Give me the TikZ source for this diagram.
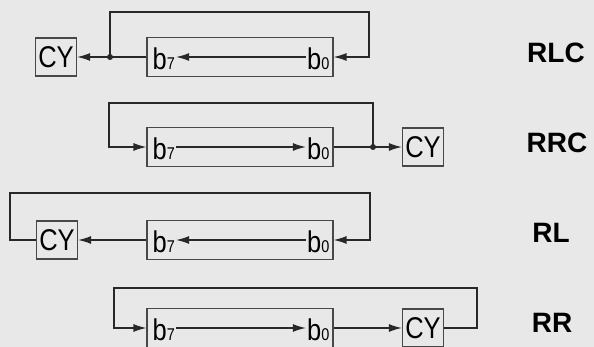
\documentclass[tikz,border=0pt]{standalone}
\usepackage{fontspec}
\setmainfont{Liberation Sans}
\newfontfamily\handfont[FakeStretch=0.85]{Liberation Sans}
\usetikzlibrary{calc,arrows.meta,positioning}
\definecolor{paper}{RGB}{232,232,232}
\definecolor{ink}{RGB}{40,40,40}
\newcommand{\bitname}[1]{b{\fontsize{17}{17}\selectfont #1}}

\begin{document}
\begin{tikzpicture}[x=1pt,y=-1pt,
  wire/.style={ink,line width=1.4pt},
  arr/.style={wire,-{Latex[length=13pt,width=8pt]}},
  regbox/.style={draw=ink!85,line width=1.1pt,minimum width=186pt,minimum height=39pt,inner sep=0pt},
  cybox/.style={draw=ink!85,line width=1.1pt,minimum width=41pt,minimum height=38pt,inner sep=0pt,
    font=\handfont\fontsize{30}{30}\selectfont},
  bit/.style={inner sep=1pt,font=\handfont\fontsize{30}{30}\selectfont},
  opname/.style={font=\bfseries\fontsize{28}{28}\selectfont}]
  % page 594 x 347, one unit = one pixel, y runs downwards
  \fill[paper] (0,0) rectangle (594,347);
  \useasboundingbox (0,0) rectangle (594,347);

  % RLC: b0 -> b7, b7 out to CY and round to b0
  \node[cybox]  (cy1) at (56,57)  {CY};
  \node[regbox] (r1)  at (240,57) {};
  \node[bit,anchor=base west] (b71) at ($(r1.west)+(5,13)$) {\bitname{7}};
  \node[bit,anchor=base east] (b01) at ($(r1.east)+(-3,13)$) {\bitname{0}};
  \coordinate (j1) at (110,57);
  \coordinate (t1) at (369,12);
  \draw[arr] (b01.west |- r1.east) -- (b71.east |- r1.east);
  \draw[arr] (r1.west) -- (cy1.east);
  \draw[arr] (j1) |- (t1) |- (r1.east);
  \fill[ink] (j1) circle (3pt);
  \node[opname] (rlc) at (556,53) {RLC};

  % RRC: b7 -> b0, b0 out to CY and round to b7
  \node[regbox] (r2)  at (240,147) {};
  \node[cybox]  (cy2) at (423,147) {CY};
  \node[bit,anchor=base west] (b72) at ($(r2.west)+(5,13)$) {\bitname{7}};
  \node[bit,anchor=base east] (b02) at ($(r2.east)+(-3,13)$) {\bitname{0}};
  \coordinate (j2) at (373,147);
  \coordinate (t2) at (109,103);
  \draw[arr] (b72.east |- r2.west) -- (b02.west |- r2.west);
  \draw[arr] (r2.east) -- (cy2.west);
  \draw[arr] (j2) |- (t2) |- (r2.west);
  \fill[ink] (j2) circle (3pt);
  \node[opname] (rrc) at (557,143) {RRC};

  % RL: CY takes b7, old CY goes round to b0
  \node[cybox]  (cy3) at (57,240)  {CY};
  \node[regbox] (r3)  at (240,240) {};
  \node[bit,anchor=base west] (b73) at ($(r3.west)+(5,13)$) {\bitname{7}};
  \node[bit,anchor=base east] (b03) at ($(r3.east)+(-3,13)$) {\bitname{0}};
  \coordinate (c3a) at (10,193);
  \coordinate (c3b) at (370,193);
  \draw[arr] (b03.west |- r3.east) -- (b73.east |- r3.east);
  \draw[arr] (r3.west) -- (cy3.east);
  \draw[arr] (cy3.west) -| (c3a) -- (c3b) |- (r3.east);
  \node[opname] (rl) at (551,233) {RL};

  % RR: CY takes b0, old CY goes round to b7
  \node[regbox] (r4)  at (240,328) {};
  \node[cybox]  (cy4) at (423,328) {CY};
  \node[bit,anchor=base west] (b74) at ($(r4.west)+(5,12)$) {\bitname{7}};
  \node[bit,anchor=base east] (b04) at ($(r4.east)+(-3,12)$) {\bitname{0}};
  \coordinate (c4a) at (477,288);
  \coordinate (c4b) at (114,288);
  \draw[arr] (b74.east |- r4.west) -- (b04.west |- r4.west);
  \draw[arr] (r4.east) -- (cy4.west);
  \draw[arr] (cy4.east) -| (c4a) -- (c4b) |- (r4.west);
  \node[opname] (rr) at (552,323) {RR};
\end{tikzpicture}
\end{document}
